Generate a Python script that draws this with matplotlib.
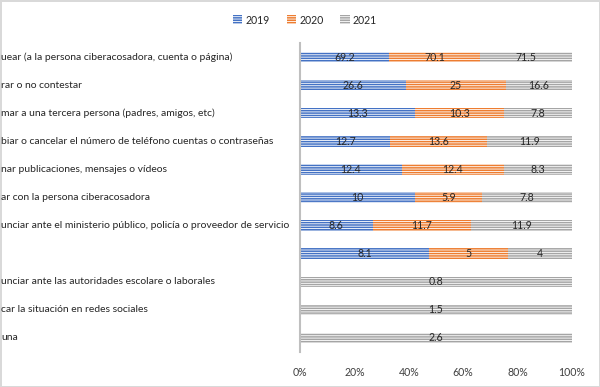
import numpy as np
import matplotlib.pyplot as plt
from matplotlib.transforms import blended_transform_factory

# datos (las etiquetas aparecen recortadas por el borde izquierdo en el original)
categorias = [
    "uear (a la persona ciberacosadora, cuenta o página)",
    "rar o no contestar",
    "mar a una tercera persona (padres, amigos, etc)",
    "biar o cancelar el número de teléfono cuentas o contraseñas",
    "nar publicaciones, mensajes o vídeos",
    "ar con la persona ciberacosadora",
    "unciar ante el ministerio público, policía o proveedor de servicio",
    "",
    "unciar ante las autoridades escolare o laborales",
    "car la situación en redes sociales",
    "una",
]
v2019 = [69.2, 26.6, 13.3, 12.7, 12.4, 10, 8.6, 8.1, 0, 0, 0]
v2020 = [70.1, 25, 10.3, 13.6, 12.4, 5.9, 11.7, 5, 0, 0, 0]
v2021 = [71.5, 16.6, 7.8, 11.9, 8.3, 7.8, 11.9, 4, 0.8, 1.5, 2.6]
anios = ["2019", "2020", "2021"]
colores = ["#4472C4", "#ED7D31", "#A5A5A5"]

plt.rcParams['font.family'] = ['Lato', 'DejaVu Sans']
plt.rcParams['hatch.linewidth'] = 1.1

datos = np.array([v2019, v2020, v2021], dtype=float)
total = datos.sum(axis=0)
pct = datos / total

fig = plt.figure(figsize=(6, 3.87), dpi=100)
fig.patch.set_edgecolor('#D9D9D9')
fig.patch.set_linewidth(1)
ax = fig.add_axes([300/600, 1 - 352/387, 272/600, 309/387])

y = np.arange(len(categorias))
izq = np.zeros(len(categorias))
barras = []
for i in range(3):
    b = ax.barh(y, pct[i], left=izq, height=0.37, color='white',
                edgecolor=colores[i], linewidth=0, hatch='-------', label=anios[i])
    barras.append(b)
    for j in range(len(y)):
        if datos[i, j] > 0:
            ax.text(izq[j] + pct[i, j] / 2, y[j], "{:g}".format(datos[i, j]),
                    ha='center', va='center', fontsize=7.6, color='#262626')
    izq += pct[i]

ax.set_xlim(0, 1)
ax.set_ylim(len(categorias) - 0.5, -0.5)
ax.set_xticks(np.linspace(0, 1, 6))
ax.set_xticklabels(["{}%".format(int(t * 100)) for t in np.linspace(0, 1, 6)])
ax.tick_params(axis='x', length=0, labelsize=7.6, labelcolor='#404040', pad=11)
ax.set_yticks([])
for s in ['top', 'right', 'bottom']:
    ax.spines[s].set_visible(False)
ax.spines['left'].set_color('#BFBFBF')
ax.spines['left'].set_linewidth(1.5)

tr = blended_transform_factory(fig.transFigure, ax.transData)
for j, c in enumerate(categorias):
    ax.text(1/600, y[j], c, transform=tr, ha='left', va='center',
            fontsize=7.5, color='#262626', clip_on=False)

fig.legend(handles=barras, loc='center', bbox_to_anchor=(305/600, 1 - 20/387),
           ncol=3, frameon=False, fontsize=7.6, handlelength=0.9, handleheight=0.9,
           handletextpad=0.3, columnspacing=1.6, labelcolor='#262626')

plt.savefig("out.png")
